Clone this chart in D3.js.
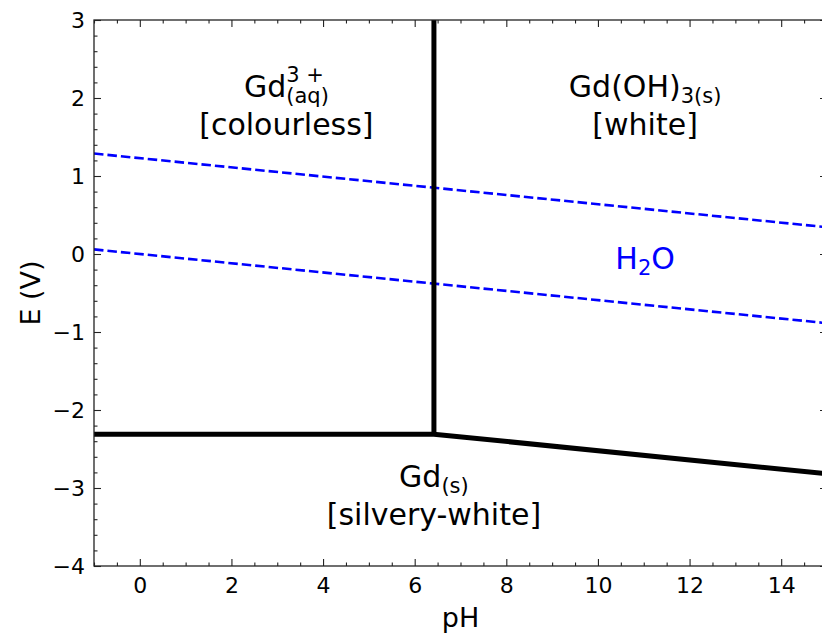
<!DOCTYPE html>
<html>
<head>
<meta charset="utf-8">
<script src="https://cdn.jsdelivr.net/npm/d3@7"></script>
<style>
  body { margin: 0; background: #fff; }
  svg { font-family: "DejaVu Sans", sans-serif; }
</style>
</head>
<body>
<svg id="chart" width="822" height="634"></svg>
<script>
// domain of the diagram
var phDomain = [-1, 15];
var eDomain = [-4, 3];
var phTicks = [0, 2, 4, 6, 8, 10, 12, 14];
var eTicks = [-4, -3, -2, -1, 0, 1, 2, 3];

// phase boundaries (pH, E)
var gdIonBoundary = [[6.42, -2.31], [6.42, 3]];
var gdMetalBoundary = [[-1, -2.31], [6.42, -2.31], [15, -2.817]];
// water stability lines
var waterUpper = [[-1, 1.288], [15, 0.343]];
var waterLower = [[-1, 0.059], [15, -0.887]];

var svg = d3.select('#chart');
var mLeft = 94, mRight = 827, mTop = 20, mBottom = 566;

var x = d3.scaleLinear().domain(phDomain).range([mLeft, mRight]);
var y = d3.scaleLinear().domain(eDomain).range([mBottom, mTop]);

svg.append('defs').append('clipPath').attr('id', 'clip')
  .append('rect').attr('x', mLeft).attr('y', mTop)
  .attr('width', mRight - mLeft).attr('height', mBottom - mTop);

var line = d3.line().x(d => x(d[0])).y(d => y(d[1]));
var plot = svg.append('g').attr('clip-path', 'url(#clip)');

// water lines
[waterUpper, waterLower].forEach(function(w) {
  plot.append('path').datum(w).attr('d', line)
    .attr('fill', 'none').attr('stroke', '#0000ff')
    .attr('stroke-width', 2.6).attr('stroke-dasharray', '9.5,4');
});

// boundaries
[gdIonBoundary, gdMetalBoundary].forEach(function(b) {
  plot.append('path').datum(b).attr('d', line)
    .attr('fill', 'none').attr('stroke', '#000')
    .attr('stroke-width', 5).attr('stroke-linejoin', 'miter');
});

// axes, ticks pointing inward on all sides
function minorRange(a, b, step) {
  var out = [];
  for (var v = a; v <= b + 1e-9; v += step) out.push(+v.toFixed(3));
  return out;
}
var phMinor = minorRange(-1, 15, 0.5).filter(v => phTicks.indexOf(v) < 0);
var eMinor = minorRange(-4, 3, 0.2).filter(v => eTicks.indexOf(v) < 0);

function styleAxis(g) {
  g.select('.domain').remove();
  g.selectAll('.tick line').attr('stroke', '#222').attr('stroke-width', 1.1);
  g.selectAll('.tick text').attr('font-size', 22).attr('fill', '#000')
    .attr('font-family', '"DejaVu Sans", sans-serif');
}

svg.append('g').attr('transform', 'translate(0,' + mBottom + ')')
  .call(d3.axisBottom(x).tickValues(phTicks).tickSize(-7).tickPadding(11).tickFormat(d3.format('d')))
  .call(styleAxis);
svg.append('g').attr('transform', 'translate(0,' + mBottom + ')')
  .call(d3.axisBottom(x).tickValues(phMinor).tickSize(-3.5).tickFormat(''))
  .call(styleAxis);
svg.append('g').attr('transform', 'translate(0,' + mTop + ')')
  .call(d3.axisTop(x).tickValues(phTicks).tickSize(-7).tickFormat(''))
  .call(styleAxis);
svg.append('g').attr('transform', 'translate(0,' + mTop + ')')
  .call(d3.axisTop(x).tickValues(phMinor).tickSize(-3.5).tickFormat(''))
  .call(styleAxis);

svg.append('g').attr('transform', 'translate(' + mLeft + ',0)')
  .call(d3.axisLeft(y).tickValues(eTicks).tickSize(-7).tickPadding(9).tickFormat(d3.format('d')))
  .call(styleAxis);
svg.append('g').attr('transform', 'translate(' + mLeft + ',0)')
  .call(d3.axisLeft(y).tickValues(eMinor).tickSize(-3.5).tickFormat(''))
  .call(styleAxis);
svg.append('g').attr('transform', 'translate(' + mRight + ',0)')
  .call(d3.axisRight(y).tickValues(eTicks).tickSize(-7).tickFormat(''))
  .call(styleAxis);

// frame
svg.append('rect').attr('x', mLeft).attr('y', mTop)
  .attr('width', mRight - mLeft).attr('height', mBottom - mTop)
  .attr('fill', 'none').attr('stroke', '#222').attr('stroke-width', 1.3);

// axis titles
svg.append('text').attr('x', (mLeft + mRight) / 2).attr('y', 627)
  .attr('text-anchor', 'middle').attr('font-size', 27).text('pH');
svg.append('text').attr('transform', 'translate(40,' + ((mTop + mBottom) / 2) + ') rotate(-90)')
  .attr('text-anchor', 'middle').attr('font-size', 27).text('E (V)');

// region labels: parts are [text, kind] with kind main/sup/sub
function label(cx, base, parts, color) {
  var g = svg.append('g');
  var t = g.append('text').attr('font-size', 30).attr('fill', color).attr('y', base);
  var cursor = 0, scriptStart = null;
  parts.forEach(function(p) {
    var span = t.append('tspan').text(p[0]);
    if (p[1] === 'main') {
      span.attr('x', cursor).attr('y', base);
      cursor += span.node().getComputedTextLength();
      scriptStart = null;
    } else {
      if (scriptStart === null) scriptStart = cursor;
      span.attr('font-size', 21).attr('x', scriptStart)
        .attr('y', p[1] === 'sup' ? base - 15 : base + 6);
      cursor = Math.max(cursor, scriptStart + span.node().getComputedTextLength());
    }
  });
  t.attr('transform', 'translate(' + (cx - cursor / 2) + ',0)');
}

label(x(3.2), 97, [['Gd', 'main'], ['3 +', 'sup'], ['(aq)', 'sub']], '#000');
label(x(3.2), 135, [['[colourless]', 'main']], '#000');
label(x(11.03), 97, [['Gd(OH)', 'main'], ['3(s)', 'sub']], '#000');
label(x(11.03), 135, [['[white]', 'main']], '#000');
label(x(11.03), 269, [['H', 'main'], ['2', 'sub'], ['O', 'main']], '#0000ff');
label(x(6.42), 487, [['Gd', 'main'], ['(s)', 'sub']], '#000');
label(x(6.42), 525, [['[silvery-white]', 'main']], '#000');
</script>
</body>
</html>
